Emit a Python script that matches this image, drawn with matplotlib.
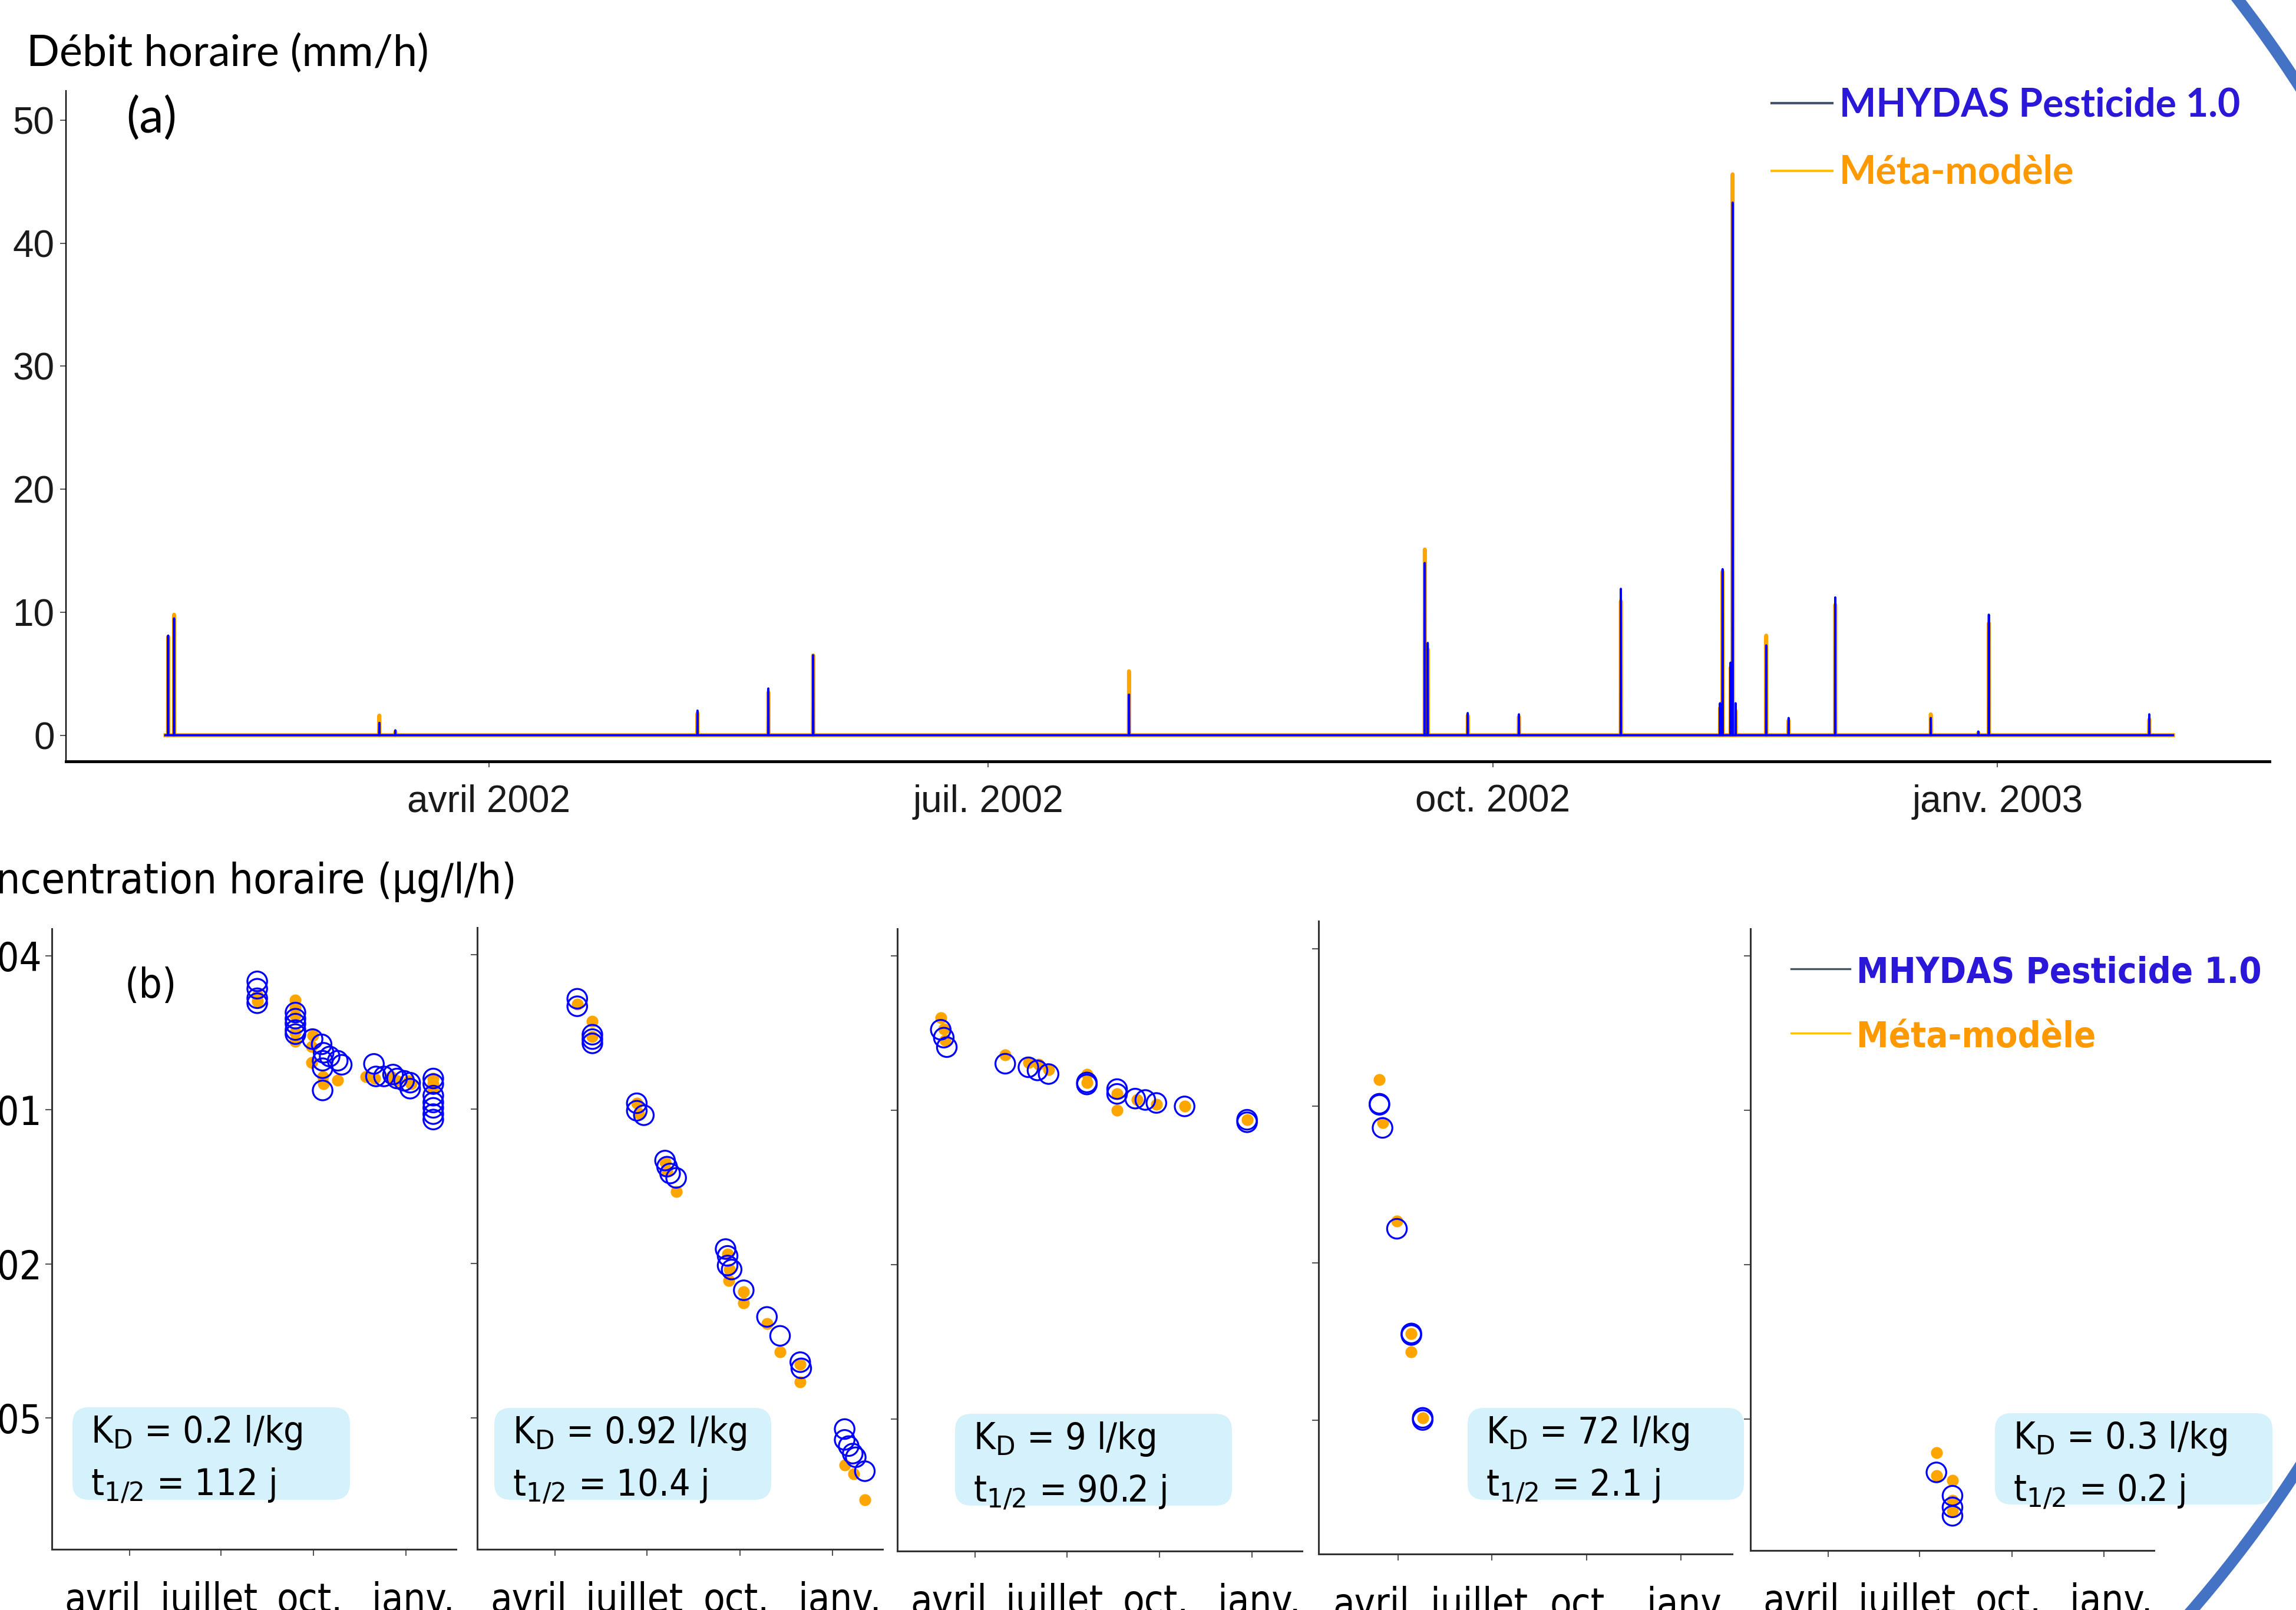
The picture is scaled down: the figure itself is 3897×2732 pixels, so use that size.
import os

import numpy as np
import pandas as pd
import matplotlib
matplotlib.use("Agg")
import matplotlib.pyplot as plt
from matplotlib import font_manager
from matplotlib.font_manager import FontProperties
from matplotlib.lines import Line2D
from matplotlib.patches import FancyBboxPatch, Arc
from matplotlib.ticker import FixedLocator, FixedFormatter, NullLocator
from matplotlib.transforms import Affine2D, ScaledTranslation

# ── (a) hourly discharge: event peaks (mm/h), zero elsewhere ──
FLOW_START, FLOW_END = "2002-02-01 00:00", "2003-02-02 00:00"
FLOW_TIMES = ["2002-02-01 12:00", "2002-02-02 14:00", "2002-03-12 00:00", "2002-03-14 22:00",
              "2002-05-09 00:00", "2002-05-21 22:00", "2002-05-30 02:00", "2002-07-26 16:00",
              "2002-09-18 14:00", "2002-09-19 03:00", "2002-09-26 10:00", "2002-10-05 18:00",
              "2002-10-24 08:00", "2002-11-11 10:00", "2002-11-11 21:00", "2002-11-13 08:00",
              "2002-11-13 17:00", "2002-11-14 06:00", "2002-11-19 20:00", "2002-11-23 22:00",
              "2002-12-02 10:00", "2002-12-19 20:00", "2002-12-28 12:00", "2002-12-30 10:00",
              "2003-01-28 16:00"]
FLOW_MHYDAS = [8.1, 9.5, 1.0, 0.4, 2.0, 3.8, 6.5, 3.3, 14.0, 7.5, 1.8, 1.7, 11.9, 2.6, 13.5,
               5.9, 43.3, 2.6, 7.3, 1.4, 11.2, 1.4, 0.3, 9.8, 1.7]
FLOW_META = [8.0, 9.8, 1.6, 0.3, 1.8, 3.5, 6.5, 5.2, 15.1, 7.0, 1.6, 1.5, 10.9, 2.2, 13.3,
             5.5, 45.6, 2.0, 8.1, 1.2, 10.6, 1.7, 0.2, 9.1, 1.3]

# ── (b) hourly concentrations (µg/l/h), five pesticides ──
P1_MHY_T = ["2002-08-06"] * 4 + ["2002-09-13"] * 5 + [
    "2002-09-30", "2002-10-09", "2002-10-10", "2002-10-10", "2002-10-10", "2002-10-11",
    "2002-10-17", "2002-10-25", "2002-10-29", "2002-11-30", "2002-12-02", "2002-12-10",
    "2002-12-19", "2002-12-23", "2002-12-30", "2003-01-05", "2003-01-05"] + ["2003-01-28"] * 7
P1_MHY_C = [3.2e3, 2.3e3, 1.5e3, 1.2e3, 7.9e2, 6.0e2, 4.8e2, 3.6e2, 3.0e2,
            2.4e2, 1.9e2, 91, 65, 24, 1.3e2, 1.1e2, 91, 76, 79, 45, 45, 49, 41, 37, 34, 26,
            41, 32, 19, 14, 11, 8.3, 6.5]
P1_META_T = ["2002-08-06"] * 2 + ["2002-09-13"] * 5 + [
    "2002-09-30", "2002-09-29", "2002-09-29", "2002-10-10", "2002-10-11", "2002-10-25",
    "2002-11-22", "2002-12-01", "2002-12-17", "2002-12-23", "2003-01-04", "2003-01-06"] + ["2003-01-28"] * 3
P1_META_C = [1.7e3, 1.3e3, 1.4e3, 9.8e2, 6.9e2, 3.2e2, 2.2e2,
             2.8e2, 1.7e2, 83, 45, 32, 38, 45, 41, 45, 37, 37, 32, 41, 32, 26]

P2_MHY_T = ["2002-04-23", "2002-04-23", "2002-05-08", "2002-05-08", "2002-05-08", "2002-06-21",
            "2002-06-21", "2002-06-28", "2002-07-19", "2002-07-21", "2002-07-24", "2002-07-30",
            "2002-09-17", "2002-09-19", "2002-09-19", "2002-09-23", "2002-10-05", "2002-10-28",
            "2002-11-10", "2002-11-30", "2002-12-01", "2003-01-13", "2003-01-13", "2003-01-17",
            "2003-01-21", "2003-01-24", "2003-02-02"]
P2_MHY_C = [1.4e3, 1.0e3, 2.8e2, 2.3e2, 1.9e2, 13, 9.3, 7.6, 1.0, 0.76, 0.56, 0.46,
            0.019, 0.014, 0.0091, 0.0076, 0.0030, 9.1e-4, 3.9e-4, 1.2e-4, 9.1e-5,
            6.0e-6, 3.7e-6, 2.8e-6, 2.0e-6, 1.7e-6, 9.1e-7]
P2_META_T = ["2002-04-23", "2002-05-08", "2002-05-08", "2002-06-21", "2002-06-23", "2002-07-19",
             "2002-07-21", "2002-07-30", "2002-09-19", "2002-09-21", "2002-09-20", "2002-10-05",
             "2002-10-05", "2002-10-28", "2002-11-10", "2002-11-30", "2002-11-30", "2003-01-13",
             "2003-01-22", "2003-02-02"]
P2_META_C = [1.1e3, 5.1e2, 2.6e2, 13, 8.3, 0.93, 0.62, 0.25, 0.015, 0.0076, 0.0046, 0.0028,
             0.0017, 6.8e-4, 1.9e-4, 1.1e-4, 5.0e-5, 1.2e-6, 8.1e-7, 2.5e-7]

P3_MHY_T = ["2002-02-26", "2002-03-01", "2002-03-04", "2002-05-01", "2002-05-24", "2002-06-02",
            "2002-06-13", "2002-07-21", "2002-07-21", "2002-08-20", "2002-08-20", "2002-09-07",
            "2002-09-17", "2002-09-28", "2002-10-26", "2002-12-27", "2002-12-27"]
P3_MHY_C = [3.7e2, 2.6e2, 1.7e2, 81, 69, 60, 51, 35, 32, 26, 21, 17, 16, 14, 12, 6.6, 5.9]
P3_META_T = ["2002-02-26", "2002-03-01", "2002-03-02", "2002-05-01", "2002-05-24", "2002-06-03",
             "2002-06-13", "2002-07-21", "2002-07-21", "2002-08-20", "2002-08-20", "2002-09-09",
             "2002-09-28", "2002-10-26", "2002-12-27"]
P3_META_C = [6.3e2, 3.8e2, 2.3e2, 1.2e2, 85, 78, 63, 51, 35, 21, 10, 16, 13, 12, 6.6]

P4_MHY_T = ["2002-03-14", "2002-03-14", "2002-03-17", "2002-03-31", "2002-04-14", "2002-04-14",
            "2002-04-25", "2002-04-25"]
P4_MHY_C = [11, 10.5, 3.8, 0.045, 4.5e-4, 4.2e-4, 1.1e-5, 1.0e-5]
P4_META_T = ["2002-03-14", "2002-03-17", "2002-03-31", "2002-04-14", "2002-04-14", "2002-04-25"]
P4_META_C = [32, 4.8, 0.063, 4.5e-4, 2.0e-4, 1.1e-5]

P5_MHY_T = ["2002-07-18", "2002-08-03", "2002-08-03", "2002-08-03"]
P5_MHY_C = [9.1e-7, 3.2e-7, 1.9e-7, 1.3e-7]
P5_META_T = ["2002-07-18", "2002-07-18", "2002-08-03", "2002-08-03", "2002-08-03"]
P5_META_C = [2.2e-6, 7.8e-7, 6.3e-7, 2.6e-7, 1.6e-7]

KD_LABELS = ["0.2", "0.92", "9", "72", "0.3"]
HALF_LIFE = ["112", "10.4", "90.2", "2.1", "0.2"]

MONTH_TICKS = ["2002-04-01", "2002-07-01", "2002-10-01", "2003-01-01"]
TOP_TICK_LABELS = ["avril 2002", "juil. 2002", "oct. 2002", "janv. 2003"]
BOT_TICK_LABELS = ["avril", "juillet", "oct.", "janv."]
LOG_TICKS = [1e4, 1e1, 1e-2, 1e-5]
LOG_TICK_LABELS = ["1e+04", "1e+01", "1e-02", "1e-05"]

BLUE, ORANGE = "#0000ff", "#ffa500"
TXT_BLUE, TXT_ORANGE = "#2a17d8", "#ff9900"

W, H = 3897, 2732
fig = plt.figure(figsize=(W / 100, H / 100), dpi=100)
PX = Affine2D().scale(1, -1).translate(0, H)   # image pixels, y downwards


def add_axes_px(l, t, r, b):
    return fig.add_axes([l / W, 1 - b / H, (r - l) / W, (b - t) / H])


def find_file(base):
    for f in font_manager.fontManager.ttflist:
        if os.path.basename(f.fname) == base:
            return f.fname
    return None


COND_REG = find_file("DejaVuSansCondensed.ttf")
COND_BOLD = find_file("DejaVuSansCondensed-Bold.ttf")


def bot_font(size, bold=False):
    path = COND_BOLD if bold else COND_REG
    if path:
        return FontProperties(fname=path, size=size)
    return FontProperties(family="DejaVu Sans", weight="bold" if bold else "normal", size=size * 0.9)


XLIM = (np.datetime64("2002-01-13T21:00"), np.datetime64("2003-02-19T14:00"))
month_ticks = pd.to_datetime(MONTH_TICKS).to_numpy()

# ── top panel ──
hours = pd.date_range(FLOW_START, FLOW_END, freq="h")
mhy = pd.Series(0.0, index=hours)
mhy.loc[pd.to_datetime(FLOW_TIMES)] = FLOW_MHYDAS
meta = pd.Series(0.0, index=hours)
meta.loc[pd.to_datetime(FLOW_TIMES)] = FLOW_META

ax = add_axes_px(112, 154, 3852, 1292)
ax.plot(meta.index.to_numpy(), meta.values, color=ORANGE, lw=4.8, solid_joinstyle="round")
ax.plot(mhy.index.to_numpy(), mhy.values, color=BLUE, lw=2.7, solid_joinstyle="round")
ax.set_xlim(*XLIM)
ax.set_ylim(-2.13, 52.39)
ax.set_yticks([0, 10, 20, 30, 40, 50])
ax.set_xticks(month_ticks)
ax.set_xticklabels(TOP_TICK_LABELS)
ax.tick_params(axis="both", length=7, width=1.4, color="#555555", labelcolor="#1a1a1a",
               labelsize=46)
ax.tick_params(axis="y", pad=7)
ax.tick_params(axis="x", pad=21)
for lab in ax.get_xticklabels() + ax.get_yticklabels():
    lab.set_family("Liberation Sans")
for s in ("top", "right"):
    ax.spines[s].set_visible(False)
ax.spines["left"].set_linewidth(1.6)
ax.spines["bottom"].set_linewidth(3.5)

fig.text(45, 112, "Débit horaire (mm/h)", transform=PX, family="Lato", fontsize=53, va="baseline")
fig.text(214, 226, "(a)", transform=PX, family="Lato", fontsize=60, va="baseline")
for y, col, line_col, lab in [(175, TXT_BLUE, "#44546a", "MHYDAS Pesticide 1.0"),
                              (290, TXT_ORANGE, "#ffc000", "Méta-modèle")]:
    fig.add_artist(Line2D([3007, 3110], [y, y], transform=PX, color=line_col, lw=3))
    fig.text(3122, y + 22, lab, transform=PX, family="Lato", weight="bold", fontsize=47.5,
             color=col, va="baseline")

# ── bottom panels ──
panels = [
    dict(rect=(88, 1576, 774, 2629), box=(123, 2388, 594, 2545),
         mt=P1_MHY_T, mc=P1_MHY_C, ot=P1_META_T, oc=P1_META_C),
    dict(rect=(810, 1574, 1498, 2629), box=(839, 2389, 1309, 2545),
         mt=P2_MHY_T, mc=P2_MHY_C, ot=P2_META_T, oc=P2_META_C),
    dict(rect=(1523, 1576, 2210, 2632), box=(1621, 2399, 2091, 2555),
         mt=P3_MHY_T, mc=P3_MHY_C, ot=P3_META_T, oc=P3_META_C),
    dict(rect=(2238, 1563, 2940, 2637), box=(2491, 2389, 2960, 2545),
         mt=P4_MHY_T, mc=P4_MHY_C, ot=P4_META_T, oc=P4_META_C),
    dict(rect=(2971, 1576, 3656, 2631), box=(3386, 2398, 3857, 2553),
         mt=P5_MHY_T, mc=P5_MHY_C, ot=P5_META_T, oc=P5_META_C),
]
# month labels sit a little off their ticks in the original
LABEL_SHIFT_PX = [-45, -21, -6, 12]

for i, p in enumerate(panels):
    bx = add_axes_px(*p["rect"])
    bx.scatter(pd.to_datetime(p["ot"]).to_numpy(), p["oc"], s=14.5 ** 2, color=ORANGE,
               linewidths=0, zorder=2)
    bx.scatter(pd.to_datetime(p["mt"]).to_numpy(), p["mc"], s=24 ** 2, facecolors="none",
               edgecolors=BLUE, linewidths=2.3, zorder=3)
    bx.set_yscale("log")
    bx.set_ylim(10 ** -7.56, 10 ** 4.53)
    bx.set_xlim(*XLIM)
    bx.yaxis.set_major_locator(FixedLocator(LOG_TICKS))
    bx.yaxis.set_minor_locator(NullLocator())
    bx.yaxis.set_major_formatter(FixedFormatter(LOG_TICK_LABELS if i == 0 else [""] * 4))
    bx.set_xticks(month_ticks)
    bx.set_xticklabels(BOT_TICK_LABELS)
    bx.tick_params(axis="both", length=8, width=1.5, color="#555555", labelcolor="black")
    bx.tick_params(axis="x", pad=31)
    bx.tick_params(axis="y", pad=4)
    for lab in bx.get_yticklabels():
        lab.set_fontproperties(bot_font(48))
    for lab, dx in zip(bx.get_xticklabels(), LABEL_SHIFT_PX):
        lab.set_fontproperties(bot_font(48))
        lab.set_transform(lab.get_transform() + ScaledTranslation(dx / 100, 0, fig.dpi_scale_trans))
    for s in ("top", "right"):
        bx.spines[s].set_visible(False)
    for s in ("left", "bottom"):
        bx.spines[s].set_linewidth(2.2)
        bx.spines[s].set_color("#333333")

    l, t, r, b = p["box"]
    fig.add_artist(FancyBboxPatch((l, t), r - l, b - t, transform=PX,
                                  boxstyle="round,pad=0,rounding_size=28",
                                  facecolor="#d5f1fc", edgecolor="none"))
    fig.text(l + 31, t + 60, "K$_{\\mathrm{D}}$ = %s l/kg" % KD_LABELS[i], transform=PX,
             fontproperties=bot_font(45), va="baseline")
    fig.text(l + 31, t + 148, "t$_{\\mathrm{1/2}}$ = %s j" % HALF_LIFE[i], transform=PX,
             fontproperties=bot_font(45), va="baseline")

fig.text(877, 1516, "Concentration horaire (µg/l/h)", transform=PX, ha="right",
         fontproperties=bot_font(52), va="baseline")
fig.text(212, 1693, "(b)", transform=PX, fontproperties=bot_font(50), va="baseline")
for y, col, line_col, lab in [(1644, TXT_BLUE, "#44546a", "MHYDAS Pesticide 1.0"),
                              (1753, TXT_ORANGE, "#ffc000", "Méta-modèle")]:
    fig.add_artist(Line2D([3040, 3140], [y, y], transform=PX, color=line_col, lw=2.4))
    fig.text(3151, y + 24, lab, transform=PX, fontproperties=bot_font(44, bold=True),
             color=col, va="baseline")

# slide decoration: right-hand part of a large circle
fig.add_artist(Arc((2088, 1318), 4320, 4320, theta1=-55, theta2=55, transform=PX,
                   edgecolor="#4472c4", lw=14))

fig.savefig("out.png", dpi=100)
